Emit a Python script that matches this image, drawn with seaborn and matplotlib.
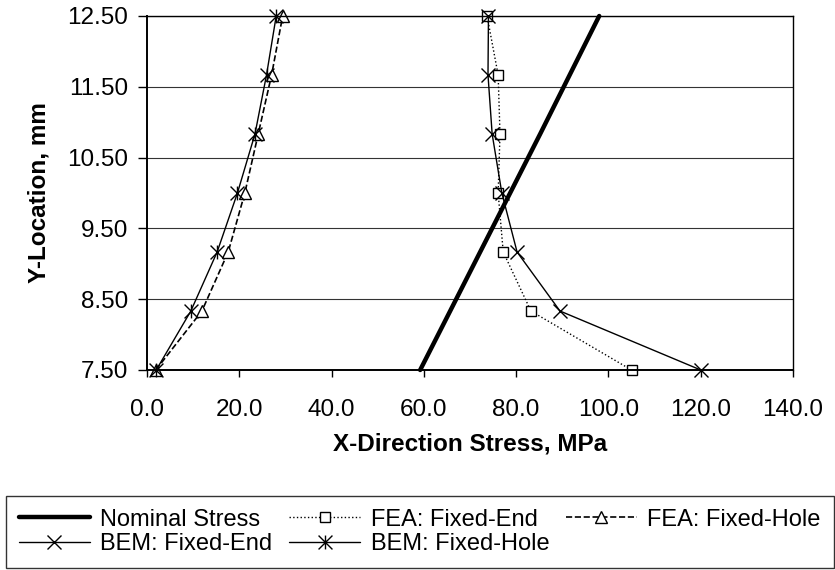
import numpy as np
import pandas as pd
import seaborn as sns
import matplotlib.pyplot as plt
from matplotlib.path import Path

# y-locations (mm) of the sample points
y_loc = [7.5, 8.333, 9.167, 10.0, 10.833, 11.667, 12.5]

nominal = [59.2, 65.7, 72.2, 78.7, 85.2, 91.6, 98.0]
fea_fixed_end = [105.0, 83.2, 77.2, 76.1, 76.5, 76.1, 73.7]
fea_fixed_hole = [1.9, 11.9, 17.6, 21.2, 24.1, 27.0, 29.4]
bem_fixed_end = [120.0, 89.5, 80.2, 76.9, 74.8, 73.9, 74.0]
bem_fixed_hole = [2.0, 9.5, 15.2, 19.6, 23.4, 25.9, 28.0]

x_ticks = [0, 20, 40, 60, 80, 100, 120, 140]
y_ticks = [7.5, 8.5, 9.5, 10.5, 11.5, 12.5]

sns.set_theme(style="white")
plt.rcParams['font.family'] = ['Liberation Sans', 'DejaVu Sans']

# excel-style asterisk: an x with a vertical bar through it
star = Path([(0, -1), (0, 1), (-1, -1), (1, 1), (-1, 1), (1, -1)],
            [Path.MOVETO, Path.LINETO] * 3)

fig = plt.figure(figsize=(8.35, 5.7), dpi=100)
ax = fig.add_axes([147/835, 1-370/570, (793-147)/835, (370-16)/570])

common = dict(color="black", clip_on=False, markeredgecolor="black")
series = {
    "Nominal Stress": (nominal, dict(linewidth=3.2)),
    "FEA: Fixed-End": (fea_fixed_end, dict(linewidth=1.0, linestyle=":", marker="s",
                                           markersize=7.5, markerfacecolor="white",
                                           markeredgewidth=1.0)),
    "FEA: Fixed-Hole": (fea_fixed_hole, dict(linewidth=1.2, linestyle="--", marker="^",
                                             markersize=9, markerfacecolor="white",
                                             markeredgewidth=1.0)),
    "BEM: Fixed-End": (bem_fixed_end, dict(linewidth=1.0, marker="x", markersize=10,
                                           markeredgewidth=1.0)),
    "BEM: Fixed-Hole": (bem_fixed_hole, dict(linewidth=1.0, marker=star, markersize=10,
                                             markeredgewidth=1.0)),
}

handles = {}
for name, (vals, kw) in series.items():
    df = pd.DataFrame({"x": vals, "y": y_loc})
    sns.lineplot(data=df, x="x", y="y", orient="y", ax=ax, label=name, **common, **kw)
    handles[name] = ax.get_lines()[-1]
ax.get_legend().remove()

ax.set_xlim(0, 140)
ax.set_ylim(7.5, 12.5)
ax.set_xticks(x_ticks)
ax.set_yticks(y_ticks)
ax.set_xticklabels([f"{v:.1f}" for v in x_ticks])
ax.set_yticklabels([f"{v:.2f}" for v in y_ticks])
ax.tick_params(axis="both", labelsize=17.5, direction="out", width=1, color="black",
               labelcolor="black", bottom=True, left=True)
ax.tick_params(axis="x", length=5, pad=16)
ax.tick_params(axis="y", length=6.5, pad=7)
ax.yaxis.grid(True, color="#333333", linewidth=0.8)
for sp in ax.spines.values():
    sp.set_color("black")
    sp.set_linewidth(1.0)
ax.spines["left"].set_linewidth(1.4)
ax.spines["bottom"].set_linewidth(1.4)

ax.set_xlabel("X-Direction Stress, MPa", fontsize=17.5, fontweight="bold", labelpad=8,
              color="black")
ax.set_ylabel("Y-Location, mm", fontsize=17.5, fontweight="bold", labelpad=12,
              color="black")

order = ["Nominal Stress", "BEM: Fixed-End", "FEA: Fixed-End", "BEM: Fixed-Hole", "FEA: Fixed-Hole"]
leg = fig.legend([handles[k] for k in order], order, ncol=3, loc="lower left",
                 bbox_to_anchor=(6/835, 2/570), fontsize=17, frameon=True, fancybox=False,
                 handlelength=3.0, handletextpad=0.45, columnspacing=0.7,
                 borderaxespad=0, borderpad=0.55, labelspacing=0.1)
leg.get_frame().set_edgecolor("black")
leg.get_frame().set_linewidth(1.0)
for t in leg.get_texts():
    t.set_color("black")

fig.savefig("out.png", dpi=100)
